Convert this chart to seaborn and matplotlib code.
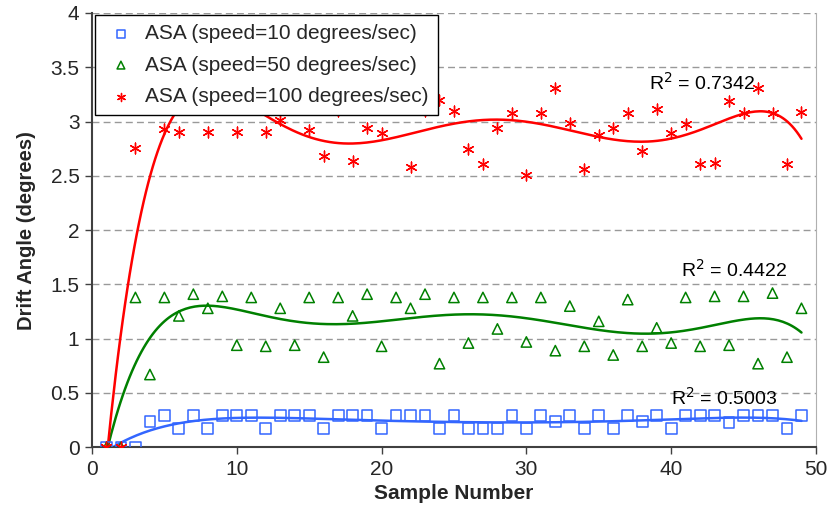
import matplotlib
matplotlib.use("Agg")
import matplotlib.pyplot as plt
import numpy as np
import seaborn as sns

sample = np.arange(1, 50)

speed10 = [0, 0, 0, 0.24, 0.29, 0.17, 0.29, 0.17, 0.29, 0.29,
           0.29, 0.17, 0.29, 0.29, 0.29, 0.17, 0.29, 0.29, 0.29, 0.17,
           0.29, 0.29, 0.29, 0.17, 0.29, 0.17, 0.17, 0.17, 0.29, 0.17,
           0.29, 0.24, 0.29, 0.17, 0.29, 0.17, 0.29, 0.24, 0.29, 0.17,
           0.29, 0.29, 0.29, 0.23, 0.29, 0.29, 0.29, 0.17, 0.29]

speed50 = [0, 0, 1.38, 0.67, 1.38, 1.21, 1.41, 1.28, 1.39, 0.94,
           1.38, 0.93, 1.28, 0.94, 1.38, 0.83, 1.38, 1.21, 1.41, 0.93,
           1.38, 1.28, 1.41, 0.77, 1.38, 0.96, 1.38, 1.09, 1.38, 0.97,
           1.38, 0.89, 1.30, 0.93, 1.16, 0.85, 1.36, 0.93, 1.10, 0.96,
           1.38, 0.93, 1.39, 0.94, 1.39, 0.77, 1.42, 0.83, 1.28]

speed100 = [0, 0, 2.76, 3.12, 2.93, 2.90, 3.30, 2.90, 3.15, 2.90,
            3.25, 2.90, 3.01, 3.12, 2.92, 2.68, 3.10, 2.64, 2.94, 2.89,
            3.15, 2.58, 3.10, 3.20, 3.10, 2.75, 2.61, 2.94, 3.08, 2.51,
            3.08, 3.31, 2.99, 2.56, 2.88, 2.94, 3.08, 2.73, 3.12, 2.89,
            2.98, 2.61, 2.62, 3.19, 3.08, 3.31, 3.08, 2.61, 3.09]

labels = ["ASA (speed=10 degrees/sec)",
          "ASA (speed=50 degrees/sec)",
          "ASA (speed=100 degrees/sec)"]
r2_text = ["R$^2$ = 0.5003", "R$^2$ = 0.4422", "R$^2$ = 0.7342"]

sns.set_style("ticks")
plt.rcParams["font.family"] = ["Liberation Sans", "DejaVu Sans"]

fig = plt.figure(figsize=(8.31, 5.14), dpi=100)
ax = fig.add_axes([0.1107, 0.1298, 0.8712, 0.845])

series = [speed10, speed50, speed100]
colors = ["#3366ff", "#008000", "#ff0000"]
markers = ["s", "^", (6, 2, 0)]
sizes = [60, 55, 60]
r2_pos = [(40.0, 0.39), (40.7, 1.57), (38.5, 3.29)]

xs = np.linspace(1, 49, 300)
for vals, col, mk, sz, lab, txt, pos in zip(series, colors, markers, sizes,
                                            labels, r2_text, r2_pos):
    vals = np.array(vals)
    # 6th order polynomial trend line, as in the original
    fit = np.polynomial.Polynomial.fit(sample, vals, 6)
    sns.lineplot(x=xs, y=fit(xs), ax=ax, color=col, linewidth=1.8, zorder=2)
    if mk == "s" or mk == "^":
        sns.scatterplot(x=sample, y=vals, ax=ax, marker=mk, s=sz,
                        facecolor="none", edgecolor=col, linewidth=1.1,
                        label=lab, zorder=3)
    else:
        sns.scatterplot(x=sample, y=vals, ax=ax, marker=mk, s=sz,
                        facecolor=col, edgecolor=col, linewidth=1.0,
                        label=lab, zorder=3)
    ax.text(pos[0], pos[1], txt, fontsize=14, va="baseline", ha="left",
            color="black")

ax.set_xlim(0, 50)
ax.set_ylim(0, 4)
ax.set_xticks(np.arange(0, 51, 10))
ax.set_yticks(np.arange(0, 4.01, 0.5))
ax.set_yticklabels(["0", "0.5", "1", "1.5", "2", "2.5", "3", "3.5", "4"])
ax.tick_params(axis="both", labelsize=15, direction="out", length=5,
               width=1, color="#404040", pad=4)
ax.yaxis.grid(True, linestyle=(0, (5, 3)), color="#999999", linewidth=1)
ax.set_axisbelow(True)

ax.spines["top"].set_visible(False)
ax.spines["right"].set_color("#b0b0b0")
ax.spines["left"].set_color("#404040")
ax.spines["bottom"].set_color("#404040")
ax.spines["left"].set_linewidth(1.5)
ax.spines["bottom"].set_linewidth(1.5)

ax.set_xlabel("Sample Number", fontsize=15, fontweight="bold", labelpad=4)
ax.set_ylabel("Drift Angle (degrees)", fontsize=14.5, fontweight="bold")
ax.yaxis.set_label_coords(-0.078, 0.5)

leg = ax.legend(loc="upper left", bbox_to_anchor=(0.004, 0.996),
                borderaxespad=0, fontsize=15, frameon=True, fancybox=False,
                edgecolor="black", framealpha=1, labelspacing=0.6,
                handlelength=1.6, handletextpad=0.35, borderpad=0.45,
                markerscale=0.75)
leg.get_frame().set_linewidth(1.0)
leg.set_zorder(10)

fig.savefig("out.png", dpi=100, facecolor="white")
